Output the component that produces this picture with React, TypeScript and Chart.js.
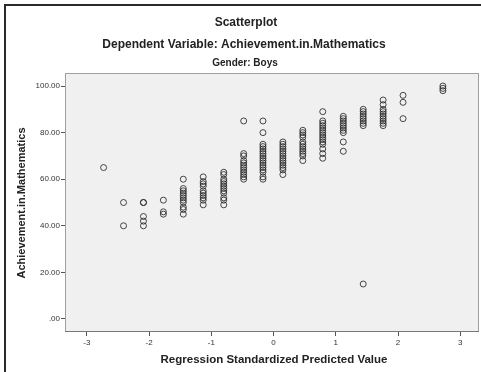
import React, { useEffect, useRef } from "react";
import { Chart, registerables } from "chart.js";

Chart.register(...registerables);

const chartTitle = "Scatterplot";
const chartSubtitle = "Dependent Variable: Achievement.in.Mathematics";
const groupLabel = "Gender: Boys";
const xAxisTitle = "Regression Standardized Predicted Value";
const yAxisTitle = "Achievement.in.Mathematics";

const xTickValues = [-3, -2, -1, 0, 1, 2, 3];
const yTickValues = [0, 20, 40, 60, 80, 100];

// standardized predicted value of each column of points
const columnX = [-2.73, -2.41, -2.09, -1.77, -1.45, -1.13, -0.8, -0.48, -0.17, 0.15, 0.47, 0.79, 1.12, 1.44, 1.76, 2.08, 2.72];
// achievement scores in each column
const col01 = [65];
const col02 = [50, 40];
const col03 = [50, 50, 44, 42, 40];
const col04 = [51, 46, 45];
const col05 = [60, 56, 55, 54, 53, 52, 51, 50, 48, 47, 45];
const col06 = [61, 59, 58, 57, 55, 54, 53, 52, 51, 49];
const col07 = [63, 62, 60, 59, 58, 57, 56, 55, 54, 52, 51, 49];
const col08 = [85, 71, 70, 68, 67, 66, 65, 64, 63, 62, 61, 60];
const col09 = [85, 80, 75, 74, 73, 72, 71, 70, 69, 68, 67, 66, 65, 64, 63, 61, 60];
const col10 = [76, 75, 74, 73, 72, 71, 70, 69, 68, 67, 66, 65, 64, 62];
const col11 = [81, 80, 79, 78, 76, 75, 74, 73, 72, 71, 70, 68];
const col12 = [89, 85, 84, 83, 82, 81, 80, 79, 78, 77, 76, 75, 73, 71, 69];
const col13 = [87, 86, 85, 84, 83, 82, 81, 80, 76, 72];
const col14 = [90, 89, 88, 87, 86, 85, 84, 83, 15];
const col15 = [94, 92, 90, 89, 88, 87, 86, 85, 84, 83];
const col16 = [96, 93, 86];
const col17 = [100, 99, 98];
const columnScores = [col01, col02, col03, col04, col05, col06, col07, col08, col09, col10, col11, col12, col13, col14, col15, col16, col17];

const points: { x: number; y: number }[] = [];
columnX.forEach((x, i) => columnScores[i].forEach((y) => points.push({ x, y })));

const FONT = "'Liberation Sans', Arial, sans-serif";

const decorPlugin = {
  id: "decor",
  beforeDraw(chart: any) {
    const { ctx, chartArea: a } = chart;
    ctx.save();
    ctx.fillStyle = "#ffffff";
    ctx.fillRect(0, 0, chart.width, chart.height);
    ctx.fillStyle = "#f0f0f0";
    ctx.fillRect(a.left, a.top, a.right - a.left, a.bottom - a.top);
    ctx.restore();
  },
  afterDraw(chart: any) {
    const { ctx, chartArea: a } = chart;
    ctx.save();
    ctx.strokeStyle = "#a0a0a0";
    ctx.lineWidth = 1;
    ctx.strokeRect(a.left + 0.5, a.top + 0.5, a.right - a.left - 1, a.bottom - a.top - 1);
    ctx.strokeStyle = "#777";
    ctx.beginPath();
    ctx.moveTo(a.left, a.bottom - 0.5);
    ctx.lineTo(a.right, a.bottom - 0.5);
    ctx.stroke();
    // outer frame
    ctx.strokeStyle = "#2a2a2a";
    ctx.lineWidth = 2;
    ctx.beginPath();
    ctx.moveTo(5, chart.height);
    ctx.lineTo(5, 5);
    ctx.lineTo(chart.width, 5);
    ctx.stroke();
    // titles
    ctx.fillStyle = "#222";
    ctx.textAlign = "center";
    ctx.textBaseline = "middle";
    ctx.font = `bold 12px ${FONT}`;
    ctx.fillText(chartTitle, 246, 23);
    ctx.fillText(chartSubtitle, 244, 45);
    ctx.font = `bold 10px ${FONT}`;
    ctx.fillText(groupLabel, 245, 63);
    ctx.font = `bold 11.5px ${FONT}`;
    ctx.fillText(xAxisTitle, 274, 360);
    ctx.translate(22, 203);
    ctx.rotate(-Math.PI / 2);
    ctx.font = `bold 11px ${FONT}`;
    ctx.fillText(yAxisTitle, 0, 0);
    ctx.restore();
  },
};

export default function App() {
  const ref = useRef<HTMLCanvasElement>(null);
  useEffect(() => {
    if (!ref.current) return;
    const tickFont = { family: FONT, size: 8 };
    const chart = new Chart(ref.current, {
      type: "scatter",
      data: {
        datasets: [
          {
            data: points,
            pointStyle: "circle",
            pointRadius: 3,
            pointBorderWidth: 1,
            borderColor: "rgba(40,40,40,0.85)",
            backgroundColor: "rgba(0,0,0,0)",
          },
        ],
      },
      options: {
        animation: false,
        responsive: false,
        events: [],
        layout: { autoPadding: false, padding: { left: 0, top: 73, right: 2, bottom: 0 } },
        plugins: { legend: { display: false }, tooltip: { enabled: false }, title: { display: false } },
        scales: {
          x: {
            type: "linear",
            min: -3.35,
            max: 3.3,
            afterBuildTicks: (s: any) => {
              s.ticks = xTickValues.map((v) => ({ value: v }));
            },
            afterFit: (s: any) => {
              s.height = 40;
              s.paddingLeft = 0;
              s.paddingRight = 0;
            },
            border: { display: false },
            grid: { drawOnChartArea: false, drawTicks: true, tickLength: 4, color: "#555", lineWidth: 1 },
            ticks: { font: tickFont, color: "#333", padding: 2, maxRotation: 0, callback: (v: any) => String(v) },
          },
          y: {
            type: "linear",
            min: -5.6,
            max: 105.6,
            afterBuildTicks: (s: any) => {
              s.ticks = yTickValues.map((v) => ({ value: v }));
            },
            afterFit: (s: any) => {
              s.width = 65;
              s.paddingTop = 0;
              s.paddingBottom = 0;
            },
            border: { display: false },
            grid: { drawOnChartArea: false, drawTicks: true, tickLength: 4, color: "#555", lineWidth: 1 },
            ticks: {
              font: tickFont,
              color: "#333",
              padding: 1,
              callback: (v: any) => (Number(v) === 0 ? ".00" : Number(v).toFixed(2)),
            },
          },
        },
      },
      plugins: [decorPlugin],
    });
    return () => chart.destroy();
  }, []);
  return (
    <div style={{ position: "absolute", left: 0, top: 0, width: 481, height: 372, background: "#fff" }}>
      <canvas ref={ref} width={481} height={372} style={{ width: 481, height: 372, display: "block" }} />
    </div>
  );
}
